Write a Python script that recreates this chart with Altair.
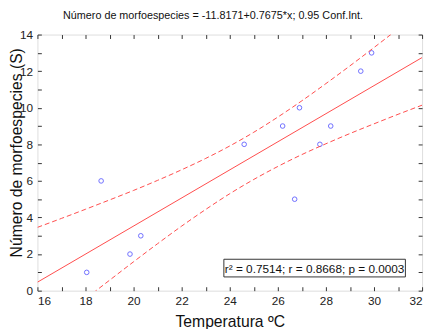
import altair as alt
import pandas as pd

# --- data ---
temp = [18.05, 18.65, 19.85, 20.3, 24.6, 26.2, 26.7, 26.9, 27.75, 28.2, 29.45, 29.9]
species = [1, 6, 2, 3, 8, 9, 5, 10, 8, 9, 12, 13]

intercept = -11.8171
slope = 0.7675
reg_x = [16, 32]

band_x = [16, 17, 18, 19, 20, 21, 22, 23, 24, 25, 26, 27, 28, 29, 30, 31, 32]
band_upper = [3.46, 3.95, 4.45, 4.96, 5.48, 6.03, 6.61, 7.23, 7.91, 8.66, 9.49, 10.38, 11.32, 12.29, 13.29, 14.31, 15.35]
band_lower = [-2.53, -1.49, -0.45, 0.57, 1.58, 2.57, 3.53, 4.44, 5.30, 6.08, 6.79, 7.44, 8.03, 8.59, 9.12, 9.64, 10.14]

x_ticks = list(range(16, 33))
y_ticks = list(range(0, 15))

title_text = "Número de morfoespecies = -11.8171+0.7675*x; 0.95 Conf.Int."
stats_text = "r² = 0.7514;  r = 0.8668; p = 0.0003"

FONT = "Liberation Sans"
RED = "#ff4a4a"
BLUE = "#3333ff"

pts = pd.DataFrame({"t": temp, "s": species})
reg = pd.DataFrame({"t": reg_x})
band = pd.concat([
    pd.DataFrame({"t": band_x, "v": band_upper, "b": "upper"}),
    pd.DataFrame({"t": band_x, "v": band_lower, "b": "lower"}),
])

xscale = alt.Scale(domain=[16, 32], nice=False, zero=False)
yscale = alt.Scale(domain=[0, 14], nice=False, zero=False)

even = "datum.value % 2 == 0 ? datum.label : ''"

x_bottom = alt.Axis(values=x_ticks, labelExpr=even, orient="bottom", offset=-4,
                    tickSize=4, domain=False, grid=False, labelPadding=5,
                    labelFontSize=12, labelColor="#222", labelFont=FONT,
                    title="Temperatura ºC", titleFontSize=16, titleFont=FONT,
                    titleFontWeight="normal", titleColor="#111", titlePadding=8,
                    tickColor="#333")
y_left = alt.Axis(values=y_ticks, labelExpr=even, orient="left", offset=-4,
                  tickSize=4, domain=False, grid=False, labelPadding=5,
                  labelFontSize=12, labelColor="#222", labelFont=FONT,
                  title="Número de morfoespecies (S)", titleFontSize=16, titleFont=FONT,
                  titleFontWeight="normal", titleColor="#111", titleX=-25,
                  titleY=120, titleBaseline="middle", titleAngle=270,
                  tickColor="#333")
x_top = alt.Axis(values=x_ticks, orient="top", offset=-4, tickSize=4, domain=False,
                 grid=False, labels=False, title=None, tickColor="#333")
y_right = alt.Axis(values=y_ticks, orient="right", offset=-4, tickSize=4, domain=False,
                   grid=False, labels=False, title=None, tickColor="#333")

points = alt.Chart(pts).mark_point(shape="circle", filled=False, color=BLUE,
                                   size=22, strokeWidth=1, clip=True).encode(
    x=alt.X("t:Q", scale=xscale, axis=x_bottom),
    y=alt.Y("s:Q", scale=yscale, axis=y_left),
)

line = alt.Chart(reg).transform_calculate(
    y=f"{intercept} + {slope} * datum.t"
).mark_line(color=RED, strokeWidth=1, clip=True).encode(
    x=alt.X("t:Q", scale=xscale, axis=x_top),
    y=alt.Y("y:Q", scale=yscale, axis=y_right),
)

bands = alt.Chart(band).mark_line(color=RED, strokeWidth=1, strokeDash=[5, 3],
                                  interpolate="monotone", clip=True).encode(
    x=alt.X("t:Q", scale=xscale, axis=None),
    y=alt.Y("v:Q", scale=yscale, axis=None),
    detail="b:N",
)

box = alt.Chart(pd.DataFrame({"a": [0]})).mark_rect(
    fill="white", stroke="#333", strokeWidth=1
).encode(x=alt.value(190), x2=alt.value(375), y=alt.value(229), y2=alt.value(247))

stats = alt.Chart(pd.DataFrame({"a": [stats_text]})).mark_text(
    font=FONT, fontSize=12, color="#111", align="center", baseline="middle"
).encode(text="a:N", x=alt.value(282.5), y=alt.value(238.5))

chart = alt.layer(points, line, bands, box, stats).resolve_axis(
    x="independent", y="independent"
).properties(
    width=392, height=261,
    title=alt.TitleParams(title_text, font=FONT, fontSize=11, fontWeight="normal",
                          color="#111", anchor="middle", dx=-17, offset=8),
    autosize=alt.AutoSizeParams(type="none"),
    padding={"left": 30, "top": 24, "right": 4, "bottom": 36},
).configure_view(stroke="#333", strokeWidth=1).configure(background="white")

chart.save("out.html", embed_options={"renderer": "svg", "actions": False})
